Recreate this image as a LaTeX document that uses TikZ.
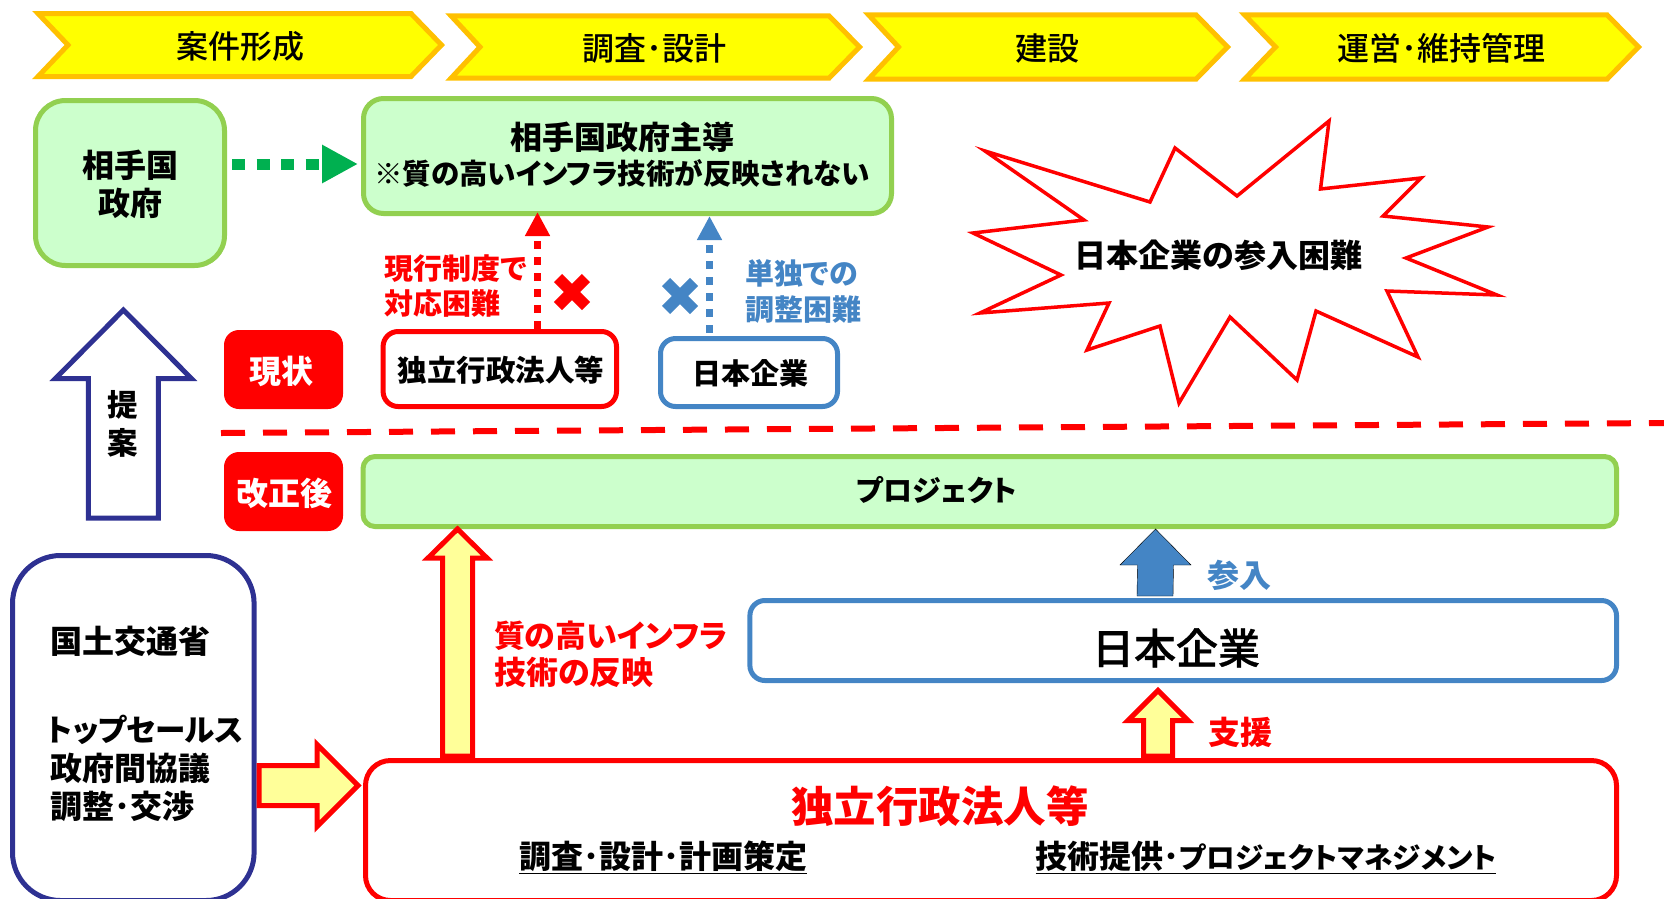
\documentclass[tikz,border=0pt]{standalone}
\usepackage{fontspec}
\setmainfont[RawFeature=+palt]{Noto Sans CJK JP}
\newfontfamily\medfont[RawFeature=+palt]{Noto Sans CJK JP Medium}
\newfontfamily\heavyfont[RawFeature=+palt,FakeBold=0.8]{Noto Sans CJK JP Medium}
\usetikzlibrary{arrows.meta,calc}
\definecolor{gline}{HTML}{92D050}
\definecolor{gfill}{HTML}{CCFFCC}
\definecolor{ared}{HTML}{FF0000}
\definecolor{ablue}{HTML}{4485C5}
\definecolor{navyb}{HTML}{2E3192}
\definecolor{agreen}{HTML}{00B050}
\definecolor{chevline}{HTML}{FFC000}
\definecolor{chevfill}{HTML}{FFFF00}
\definecolor{yfill}{HTML}{FFFF99}
\newcommand\vs{\rule[-.12em]{0pt}{1em}}
\newcommand\ulbar[1]{\setbox0\hbox{#1}\rlap{\rule[-.17em]{\wd0}{1.8pt}}\box0 }
\newcommand\boxnode[6]{\node[#6,rectangle,inner sep=0pt,minimum width={(#4-#2-5)*1pt},minimum height={(#5-#3-5)*1pt}] (#1) at ({(#2+#4)/2},{(#3+#5)/2}) {};}
\newcommand\chev[6]{\draw[chevshape] ({#1+7},{#5+2.5}) -- ({#3-1},{#5+2.5}) -- ({#4-3.5},{(#5+#6)/2}) -- ({#3-1},{#6-2.5}) -- ({#1+7},{#6-2.5}) -- ({#2-4},{(#5+#6)/2}) -- cycle;}
\newcommand\blockup[6]{\draw[#6] ($(#1)+(-#3,0)$) -- ($(#2)+(-#3,#5)$) -- ($(#2)+(-#4,#5)$) -- (#2) -- ($(#2)+(#4,#5)$) -- ($(#2)+(#3,#5)$) -- ($(#1)+(#3,0)$) -- cycle;}
\newcommand\crossmark[3]{\draw[#3,line width=11.5pt] ({#1-14},{#2-14}) -- ({#1+14},{#2+14}) ({#1-14},{#2+14}) -- ({#1+14},{#2-14});}
\tikzset{
  chevshape/.style={draw=chevline,fill=chevfill,line width=5pt,miter limit=10},
  greenbox/.style={draw=gline,fill=gfill,line width=5pt},
  redbox/.style={draw=ared,fill=white,line width=5pt},
  bluebox/.style={draw=ablue,fill=white,line width=5pt},
  navybox/.style={draw=navyb,fill=white,line width=5pt},
  badge/.style={fill=ared,rounded corners=15pt},
  yarrow/.style={draw=ared,fill=yfill,line width=5pt,miter limit=10},
  txt/.style={inner sep=0pt,outer sep=0pt,font=\fontsize{#1}{#1}\selectfont\medfont},
  htxt/.style={inner sep=0pt,outer sep=0pt,font=\fontsize{#1}{#1}\selectfont\heavyfont},
  btxt/.style={inner sep=0pt,outer sep=0pt,font=\fontsize{#1}{#1}\selectfont\bfseries},
  mtxt/.style 2 args={inner sep=0pt,outer sep=0pt,align=left,font=\fontsize{#1}{#2}\selectfont\bfseries},
}
\begin{document}
\begin{tikzpicture}[x=1pt,y=-1pt]
\useasboundingbox (0,0) rectangle (1664,898);
\clip (0,0) rectangle (1664,898);
% chevrons
\chev{31}{72}{412}{445}{11}{79}
\chev{444}{484}{830}{863}{13.3}{80.7}
\chev{861.5}{902.5}{1197}{1231}{12.3}{81.7}
\chev{1237.5}{1279.5}{1608}{1642}{12.3}{81.7}
\node[txt=32] (t1) at (240,46) {\vs 案件形成};
\node[txt=32] (t2) at (654,48) {\vs 調査･設計};
\node[txt=32] (t3) at (1047,48) {\vs 建設};
\node[txt=32] (t4) at (1441,48) {\vs 運営･維持管理};
% boxes, top
\boxnode{gov}{33}{98}{227}{268}{greenbox,rounded corners=30pt}
\boxnode{lead}{361}{96}{894}{216}{greenbox,rounded corners=20pt}
\node[mtxt={32}{38},align=center] (govt) at (130,184) {\vs 相手国\\\vs 政府};
\node[btxt=32] (leadt1) at (622,137) {\vs 相手国政府主導};
\node[btxt=28.5] (leadt2) at (622,174) {\vs ※質の高いインフラ技術が反映されない};
\boxnode{indep}{380.6}{329}{619}{409}{redbox,rounded corners=15pt}
\boxnode{jpsmall}{658}{336}{840}{409}{bluebox,rounded corners=15pt}
\node[btxt=29.5] (indept) at (501,370.5) {\vs 独立行政法人等};
\node[btxt=29] (jpt) at (750,373.5) {\vs 日本企業};
% dashed arrows
\draw[agreen,line width=11pt,dash pattern=on 13pt off 11.5pt,-{Triangle[length=36pt,width=36pt]}] ([shift={(5,-19)}]gov.east) -- ([shift={(-3,8)}]lead.west);
\coordinate (rs) at (537.5,0 |- indep.north);
\coordinate (re) at ($(537.5,0 |- lead.south)+(0,-4)$);
\draw[ared,line width=7.5pt,dash pattern=on 8pt off 8pt,-{Triangle[length=24pt,width=23.5pt]}] (rs) -- (re);
\coordinate (bs) at ($(709.5,0 |- jpsmall.north)+(0,-3)$);
\coordinate (be) at (709.5,0 |- lead.south);
\draw[ablue,line width=7.5pt,dash pattern=on 8pt off 8pt,-{Triangle[length=24pt,width=23.5pt]}] (bs) -- (be);
\crossmark{572}{292}{ared}
\crossmark{680}{296}{ablue}
\node[mtxt={29}{35},text=ared,anchor=west] (lab1) at (384.6,286) {\vs 現行制度で\\\vs 対応困難};
\node[mtxt={29}{36},text=ablue,anchor=west] (lab2) at (745,291.5) {\vs 単独での\\\vs 調整困難};
% badges
\node[badge,inner sep=0pt,minimum width=119pt,minimum height=79pt] (b1) at (283.5,369.5) {};
\node[badge,inner sep=0pt,minimum width=119pt,minimum height=79pt] (b2) at (283.5,491.5) {};
\node[btxt=32,text=white] (b1t) at (281.5,371.5) {\vs 現状};
\node[btxt=32,text=white] (b2t) at (284.5,493.5) {\vs 改正後};
% dashed separator
\coordinate (sepa) at (221,433);
\coordinate (sepb) at (1664,423);
\draw[ared,line width=6pt,dash pattern=on 24pt off 18pt] (sepa) -- (sepb);
% lower boxes
\boxnode{project}{360.5}{454}{1619}{529}{greenbox,rounded corners=12pt}
\node[btxt=29] (projt) at (937,490) {\vs プロジェクト};
\boxnode{jpbig}{747.4}{598}{1619}{683}{bluebox,rounded corners=15pt}
\node[htxt=42] (jpbt) at (1176,648) {\vs 日本企業};
\boxnode{agency}{363}{758}{1619}{903}{redbox,rounded corners=25pt}
\boxnode{mlit}{10}{553}{256.6}{903}{navybox,rounded corners=48pt}
\node[btxt=32] (mlit1) at (130,641.5) {\vs 国土交通省};
\node[btxt=30.5] (mlit2a) at (145.5,729.5) {\vs トップセールス};
\node[btxt=32] (mlit2b) at (130,768) {\vs 政府間協議};
\node[btxt=32,anchor=west] (mlit2c) at (50,806) {\vs 調整･交渉};
% proposal arrow
\coordinate (pbase) at ($(123.4,0 |- mlit.north)+(0,-35)$);
\coordinate (ptip) at (123.4,310);
\blockup{pbase}{ptip}{35}{68}{68.5}{draw=navyb,fill=white,line width=5pt,miter limit=10}
\node[btxt=30.5] (p1) at (123,405) {\vs 提};
\node[btxt=30.5] (p2) at (123,442.5) {\vs 案};
% yellow arrows
\coordinate (ua) at ($(457.5,0 |- agency.north)+(0,-2)$);
\coordinate (ub) at (457.5,0 |- project.south);
\blockup{ua}{ub}{15}{29.5}{29}{yarrow}
\coordinate (sa) at ($(1158,0 |- agency.north)+(0,-2)$);
\coordinate (sb) at ($(1158,0 |- jpbig.south)+(0,7.5)$);
\blockup{sa}{sb}{14.5}{30}{30}{yarrow}
\coordinate (ra) at ($(mlit.east |- 0,785.5)+(2.5,0)$);
\coordinate (rb) at ($(agency.west |- 0,785.5)+(-5,0)$);
\draw[yarrow] ($(ra)+(0,-20)$) -- ($(rb)+(-41,-20)$) -- ($(rb)+(-41,-41)$) -- (rb) -- ($(rb)+(-41,41)$) -- ($(rb)+(-41,20)$) -- ($(ra)+(0,20)$) -- cycle;
\coordinate (ja) at ($(1155,0 |- jpbig.north)+(0,-2)$);
\coordinate (jb) at (1155.5,0 |- project.south);
\blockup{ja}{jb}{18}{35.5}{36}{fill=ablue}
\node[btxt=32,text=ablue] (sannyu) at (1239.5,575) {\vs 参入};
\node[btxt=32,text=ared] (shien) at (1240,732.5) {\vs 支援};
\node[mtxt={31}{37},text=ared,anchor=west] (labq) at (494,654.5) {\vs 質の高いインフラ\\\fontsize{32}{37}\selectfont\vs 技術の反映};
\node[btxt=42.5,text=ared] (agt) at (940,806.5) {\vs 独立行政法人等};
\node[btxt=32] (ag1) at (663,857.5) {\ulbar{\vs 調査･設計･計画策定}};
\node[btxt=32] (ag2) at (1266,857.5) {\ulbar{\vs 技術提供･\fontsize{28.6}{32}\selectfont プロジェクトマネジメント}};
% explosion
\draw[ared,fill=white,line width=3.5pt,miter limit=10] (985,151) -- (1150,202) -- (1175,148) -- (1237,196) -- (1329,121) -- (1320.5,189) -- (1421,178) -- (1383,216) -- (1488,227) -- (1406,258) -- (1497,295) -- (1387,291) -- (1418,357) -- (1316,311) -- (1297,380) -- (1230,317) -- (1179,403) -- (1160,326) -- (1087,350) -- (1109,303) -- (980,313) -- (1061,275) -- (973,233) -- (1084,220) -- cycle;
\node[btxt=32] (expt) at (1218.5,255.5) {\vs 日本企業の参入困難};
\end{tikzpicture}
\end{document}
